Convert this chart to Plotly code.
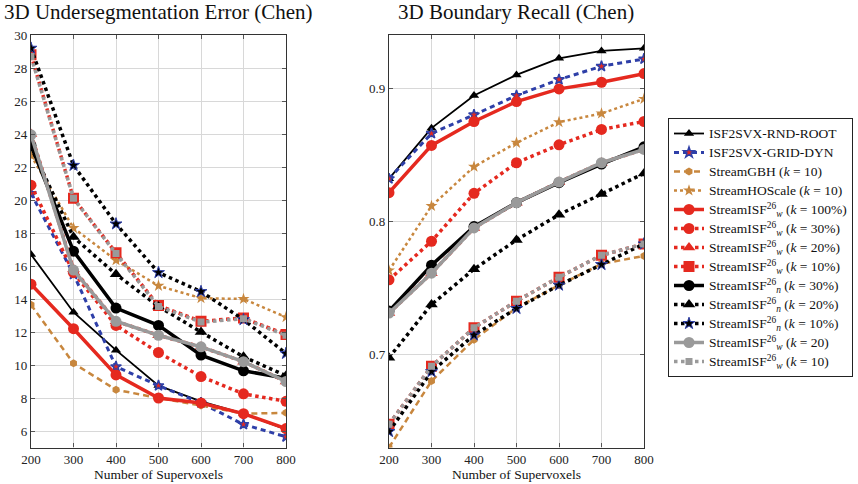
import plotly.graph_objects as go

x_vals = [200, 300, 400, 500, 600, 700, 800]

names = [
    "ISF2SVX-RND-ROOT",
    "ISF2SVX-GRID-DYN",
    "StreamGBH (<i>k</i> = 10)",
    "StreamHOScale (<i>k</i> = 10)",
    "StreamISF<sup>26</sup><sub><i>w</i></sub> (<i>k</i> = 100%)",
    "StreamISF<sup>26</sup><sub><i>w</i></sub> (<i>k</i> = 30%)",
    "StreamISF<sup>26</sup><sub><i>w</i></sub> (<i>k</i> = 20%)",
    "StreamISF<sup>26</sup><sub><i>w</i></sub> (<i>k</i> = 10%)",
    "StreamISF<sup>26</sup><sub><i>n</i></sub> (<i>k</i> = 30%)",
    "StreamISF<sup>26</sup><sub><i>n</i></sub> (<i>k</i> = 20%)",
    "StreamISF<sup>26</sup><sub><i>n</i></sub> (<i>k</i> = 10%)",
    "StreamISF<sup>26</sup><sub><i>w</i></sub> (<i>k</i> = 20)",
    "StreamISF<sup>26</sup><sub><i>w</i></sub> (<i>k</i> = 10)",
]

# 3D Undersegmentation Error (Chen)
ue_rnd_root = [16.7, 13.2, 10.9, 8.75, 7.8, 7.05, 6.1]
ue_grid_dyn = [20.4, 15.5, 9.9, 8.75, 7.7, 6.4, 5.65]
ue_gbh = [13.65, 10.1, 8.5, 8.0, 7.55, 7.05, 7.1]
ue_hoscale = [22.7, 18.3, 16.35, 14.8, 14.05, 14.0, 12.9]
ue_w100 = [14.9, 12.2, 9.4, 8.0, 7.7, 7.05, 6.15]
ue_w30 = [20.9, 15.6, 12.4, 10.75, 9.3, 8.25, 7.8]
ue_w20 = [24.0, 15.8, 12.65, 11.8, 11.1, 10.2, 9.0]
ue_w10 = [28.8, 20.1, 16.8, 13.6, 12.65, 12.85, 11.85]
ue_n30 = [23.3, 16.9, 13.45, 12.4, 10.6, 9.65, 9.2]
ue_n20 = [23.2, 17.75, 15.5, 13.55, 12.0, 10.5, 9.35]
ue_n10 = [29.2, 22.1, 18.55, 15.6, 14.45, 12.75, 10.7]
ue_k20 = [23.95, 15.75, 12.65, 11.8, 11.1, 10.2, 9.0]
ue_k10 = [28.7, 20.1, 16.75, 13.55, 12.6, 12.8, 11.8]

# 3D Boundary Recall (Chen)
br_rnd_root = [0.832, 0.870, 0.8945, 0.910, 0.9225, 0.928, 0.930]
br_grid_dyn = [0.832, 0.866, 0.880, 0.8945, 0.9065, 0.9165, 0.922]
br_gbh = [0.630, 0.680, 0.711, 0.735, 0.752, 0.768, 0.774]
br_hoscale = [0.763, 0.8115, 0.841, 0.859, 0.8745, 0.881, 0.892]
br_w100 = [0.8215, 0.857, 0.875, 0.890, 0.8995, 0.9045, 0.911]
br_w30 = [0.756, 0.785, 0.821, 0.844, 0.8575, 0.869, 0.875]
br_w20 = [0.731, 0.761, 0.795, 0.814, 0.8295, 0.844, 0.854]
br_w10 = [0.6475, 0.691, 0.720, 0.740, 0.758, 0.7745, 0.783]
br_n30 = [0.7325, 0.767, 0.796, 0.814, 0.829, 0.843, 0.856]
br_n20 = [0.6975, 0.7375, 0.764, 0.786, 0.805, 0.8205, 0.836]
br_n10 = [0.642, 0.687, 0.7145, 0.7345, 0.752, 0.7675, 0.783]
br_k20 = [0.731, 0.761, 0.795, 0.814, 0.8295, 0.844, 0.854]
br_k10 = [0.6475, 0.691, 0.720, 0.740, 0.758, 0.7745, 0.783]

ue_series = [ue_rnd_root, ue_grid_dyn, ue_gbh, ue_hoscale, ue_w100, ue_w30, ue_w20,
             ue_w10, ue_n30, ue_n20, ue_n10, ue_k20, ue_k10]
br_series = [br_rnd_root, br_grid_dyn, br_gbh, br_hoscale, br_w100, br_w30, br_w20,
             br_w10, br_n30, br_n20, br_n10, br_k20, br_k10]

RED = "#e5291f"
BLUE = "#2e3fa8"
BROWN = "#c8873e"
GRAY = "#9a9a9a"
BLACK = "#000000"

styles = [
    dict(line=dict(color=BLACK, width=1.8, dash="solid"),
         marker=dict(symbol="triangle-up", size=9, color=BLACK)),
    dict(line=dict(color=BLUE, width=3, dash="5px,4px"),
         marker=dict(symbol="star", size=8, color=RED, line=dict(color=BLUE, width=1.5))),
    dict(line=dict(color=BROWN, width=2.5, dash="6px,4px"),
         marker=dict(symbol="hexagon", size=8, color=BROWN)),
    dict(line=dict(color=BROWN, width=2.5, dash="dot"),
         marker=dict(symbol="star", size=9, color=BROWN)),
    dict(line=dict(color=RED, width=3.5, dash="solid"),
         marker=dict(symbol="circle", size=11, color=RED)),
    dict(line=dict(color=RED, width=3.5, dash="dot"),
         marker=dict(symbol="circle", size=11, color=RED)),
    dict(line=dict(color=RED, width=3.5, dash="dot"),
         marker=dict(symbol="triangle-up", size=11, color=RED)),
    dict(line=dict(color=RED, width=3.5, dash="dot"),
         marker=dict(symbol="square", size=11, color=RED)),
    dict(line=dict(color=BLACK, width=3.5, dash="solid"),
         marker=dict(symbol="circle", size=11, color=BLACK)),
    dict(line=dict(color=BLACK, width=3.5, dash="dot"),
         marker=dict(symbol="triangle-up", size=11, color=BLACK)),
    dict(line=dict(color=BLACK, width=3.5, dash="dot"),
         marker=dict(symbol="star", size=9, color=BLACK, line=dict(color=BLUE, width=1))),
    dict(line=dict(color=GRAY, width=3.5, dash="solid"),
         marker=dict(symbol="circle", size=11, color=GRAY)),
    dict(line=dict(color=GRAY, width=3.5, dash="dot"),
         marker=dict(symbol="square", size=7, color=GRAY)),
]

fig = go.Figure()
for i, name in enumerate(names):
    label = '<span style="font-size:13.5px">' + name + "</span>"
    fig.add_trace(go.Scatter(x=x_vals, y=ue_series[i], name=label, mode="lines+markers",
                             xaxis="x", yaxis="y", legendgroup=str(i), showlegend=True,
                             **styles[i]))
for i, name in enumerate(names):
    fig.add_trace(go.Scatter(x=x_vals, y=br_series[i], name=name, mode="lines+markers",
                             xaxis="x2", yaxis="y2", legendgroup=str(i), showlegend=False,
                             **styles[i]))

W, H = 858, 484
FONT = "'Liberation Serif', 'Times New Roman', serif"
ydom = [1 - 447.5 / H, 1 - 35 / H]

axis_common = dict(
    showline=True, linecolor="#333", linewidth=1.2, mirror="ticks",
    ticks="inside", ticklen=4, tickcolor="#555",
    showgrid=True, gridcolor="#d8d8d8", gridwidth=1,
    zeroline=False, automargin=False,
    tickfont=dict(family=FONT, size=13, color="#222"),
)

fig.update_layout(
    width=W, height=H,
    margin=dict(l=0, r=0, t=0, b=0, autoexpand=False),
    paper_bgcolor="white", plot_bgcolor="white",
    font=dict(family=FONT, size=13, color="#111"),
    xaxis=dict(domain=[31 / W, 286 / W], range=[200, 800], tickvals=x_vals,
               anchor="y", title=dict(text="Number of Supervoxels", font=dict(family=FONT, size=13.5), standoff=2),
               **axis_common),
    yaxis=dict(domain=ydom, range=[5, 30], tickvals=list(range(6, 31, 2)), anchor="x",
               **axis_common),
    xaxis2=dict(domain=[389 / W, 644 / W], range=[200, 800], tickvals=x_vals,
                anchor="y2", title=dict(text="Number of Supervoxels", font=dict(family=FONT, size=13.5), standoff=2),
                **axis_common),
    yaxis2=dict(domain=ydom, range=[0.63, 0.94], tickvals=[0.7, 0.8, 0.9], anchor="x2",
                **axis_common),
    legend=dict(x=668 / W, y=1 - 118 / H, xanchor="left", yanchor="top",
                bgcolor="white", bordercolor="#222", borderwidth=1,
                font=dict(family=FONT, size=12, color="#111"),
                itemwidth=30, tracegroupgap=0),
    annotations=[
        dict(text="3D Undersegmentation Error (Chen)", x=158.5 / W, y=1 - 12 / H,
             xref="paper", yref="paper", showarrow=False, xanchor="center", yanchor="middle",
             font=dict(family=FONT, size=21, color="#111")),
        dict(text="3D Boundary Recall (Chen)", x=516 / W, y=1 - 12 / H,
             xref="paper", yref="paper", showarrow=False, xanchor="center", yanchor="middle",
             font=dict(family=FONT, size=21, color="#111")),
    ],
)

fig.write_html("out.html")
